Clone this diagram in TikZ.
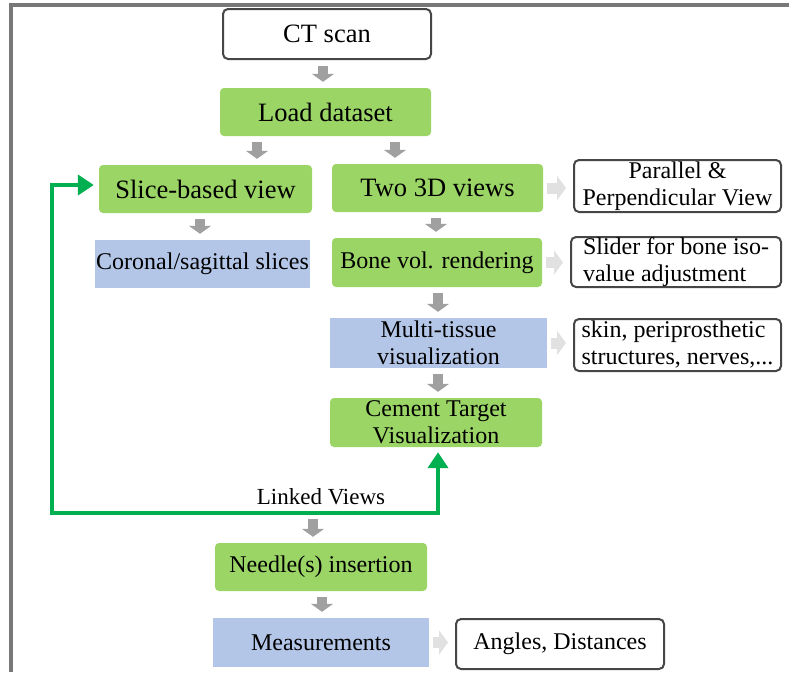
\documentclass[tikz,border=0pt]{standalone}
\usepackage{fontspec}
\setmainfont{Liberation Serif}
\usetikzlibrary{arrows.meta}

\definecolor{boxgreen}{RGB}{155,213,102}
\definecolor{boxblue}{RGB}{180,198,231}
\definecolor{linkgreen}{RGB}{0,176,80}
\definecolor{arrowgray}{RGB}{160,160,160}
\definecolor{sidegray}{RGB}{225,225,225}
\definecolor{edgegray}{RGB}{70,70,70}
\definecolor{framegray}{RGB}{120,120,120}

\begin{document}
\begin{tikzpicture}[x=1pt,y=1pt,
  box/.style={inner sep=0pt,align=center,font=\fontsize{24}{27}\selectfont},
  bigbox/.style={box,font=\fontsize{26.5}{30}\selectfont},
  greenbox/.style={fill=boxgreen,rounded corners=4pt},
  bluebox/.style={fill=boxblue},
  notebox/.style={draw=edgegray,line width=2pt,rounded corners=5pt,fill=white},
  downarr/.style={draw=arrowgray,line width=10pt,-{Triangle[width=22pt,length=8pt]},shorten <=6pt,shorten >=6pt},
  sidearr/.style={draw=sidegray,line width=11pt,-{Triangle[width=24pt,length=9pt]},shorten <=4pt,shorten >=7pt},
  linkarr/.style={draw=linkgreen,line width=4pt,{Triangle[width=20pt,length=16pt]}-{Triangle[width=20pt,length=16pt]},shorten <=5pt,shorten >=5pt}]
\useasboundingbox (0,0) rectangle (789,-672);
\draw[framegray,line width=4pt] (10.5,-672) -- (10.5,-5) -- (789,-5);

\node[bigbox,notebox,minimum width=208pt,minimum height=50pt] (ct) at (327,-34) {CT scan};
\node[bigbox,greenbox,minimum width=211pt,minimum height=48pt] (load) at (325.5,-112) {Load dataset};
\node[bigbox,greenbox,minimum width=213pt,minimum height=48pt] (slice) at (205.5,-189) {Slice-based view};
\node[bigbox,greenbox,minimum width=211pt,minimum height=48pt] (two) at (437.5,-188) {Two 3D views};
\node[box,notebox,minimum width=207pt,minimum height=52pt] (par) at (677.5,-186) {Parallel \&\\Perpendicular View};
\node[box,bluebox,minimum width=215pt,minimum height=48pt] (coronal) at (202.5,-264) {Coronal/sagittal slices};
\node[box,greenbox,minimum width=210pt,minimum height=49pt] (bone) at (437,-262.5) {Bone vol. rendering};
\node[box,notebox,align=left,minimum width=210pt,minimum height=50pt] (slider) at (676,-262) {Slider for bone iso-\\value adjustment};
\node[box,bluebox,minimum width=217pt,minimum height=50pt] (multi) at (438.5,-343) {Multi-tissue\\visualization};
\node[box,notebox,align=left,minimum width=207pt,minimum height=52pt] (skin) at (677.5,-345) {skin, periprosthetic\\structures, nerves,...};
\node[box,greenbox,minimum width=212pt,minimum height=49pt] (cement) at (436,-422.5) {Cement Target\\Visualization};
\node[box,font=\fontsize{23}{26}\selectfont] (linked) at (321,-497) {Linked Views};
\node[box,greenbox,minimum width=212pt,minimum height=48pt] (needle) at (321,-567) {Needle(s) insertion};
\node[box,bluebox,minimum width=216pt,minimum height=49pt] (meas) at (321,-642.5) {Measurements};
\node[box,notebox,minimum width=208pt,minimum height=50pt] (angles) at (560,-644) {Angles, Distances};

\coordinate (loopcorner) at (52,-513);
\coordinate (linkjoin) at (313,-513);

\draw[downarr] ([xshift=-4pt]ct.south) -- ([xshift=-2.5pt]load.north);
\draw[downarr] ([xshift=-68.5pt]load.south) -- ([xshift=51.5pt]slice.north);
\draw[downarr] ([xshift=69.5pt]load.south) -- ([xshift=-42.5pt]two.north);
\draw[downarr] ([xshift=-5.5pt]slice.south) -- ([xshift=-2.5pt]coronal.north);
\draw[downarr] ([xshift=-1.5pt]two.south) -- ([xshift=-1pt]bone.north);
\draw[downarr] ([xshift=1pt]bone.south) -- ([xshift=-0.5pt]multi.north);
\draw[downarr] ([xshift=-0.5pt]multi.south) -- ([xshift=2pt]cement.north);
\draw[downarr] (linkjoin) -- (linkjoin |- needle.north);
\draw[downarr] ([xshift=1pt]needle.south) -- ([xshift=1pt]meas.north);

\draw[sidearr] (two.east) -- (two.east -| par.west);
\draw[sidearr] (bone.east) -- (bone.east -| slider.west);
\draw[sidearr] (multi.east) -- (multi.east -| skin.west);
\draw[sidearr] (meas.east) -- (meas.east -| angles.west);

\draw[linkarr] ([yshift=4pt]slice.west) -| (loopcorner) -| ([xshift=2pt]cement.south);
\end{tikzpicture}
\end{document}
